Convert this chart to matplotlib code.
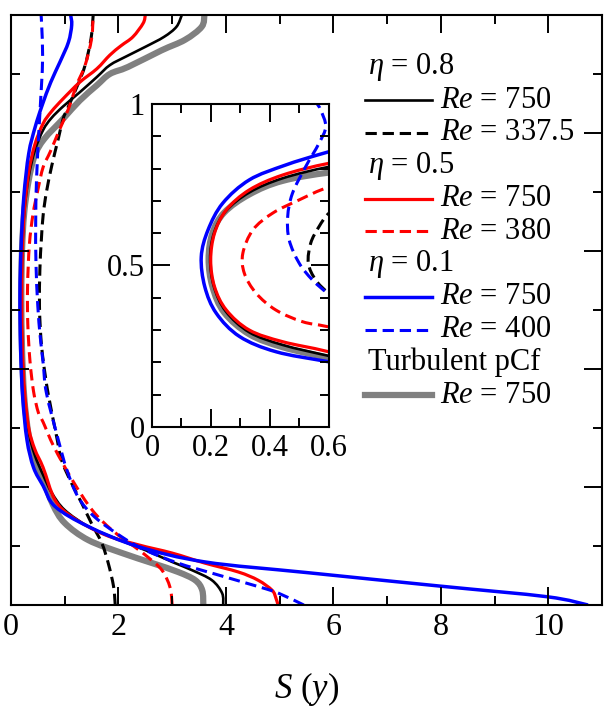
import numpy as np
import matplotlib.pyplot as plt
from matplotlib.path import Path
from matplotlib.patches import PathPatch
from matplotlib.ticker import MultipleLocator, FuncFormatter

plt.rcParams['font.family'] = ['Liberation Serif', 'DejaVu Serif']
plt.rcParams['mathtext.fontset'] = 'custom'
plt.rcParams['mathtext.rm'] = 'Liberation Serif'
plt.rcParams['mathtext.it'] = 'Liberation Serif:italic'

# S(y) profiles (y from wall to wall)
# eta = 0.8
y_08_750 = [0.0, 0.02, 0.042, 0.059, 0.073, 0.093, 0.113, 0.133, 0.161, 0.19, 0.22, 0.254, 0.293, 0.358,
            0.434, 0.52, 0.6, 0.668, 0.726, 0.77, 0.805, 0.825, 0.845, 0.869, 0.895, 0.915, 0.93, 0.946,
            0.963, 0.98, 1.0]
s_08_750 = [3.95, 3.93, 3.74, 3.37, 3.0, 2.5, 1.94, 1.44, 1.0, 0.76, 0.6, 0.443, 0.33, 0.25,
            0.21, 0.197, 0.21, 0.25, 0.33, 0.443, 0.598, 0.75, 0.97, 1.28, 1.6, 1.84, 2.15, 2.5,
            2.85, 3.08, 3.18]
y_08_337 = [0.0, 0.031, 0.071, 0.105, 0.138, 0.172, 0.206, 0.246, 0.29, 0.359, 0.414, 0.455, 0.507,
            0.569, 0.62, 0.662, 0.70, 0.745, 0.79, 0.824, 0.841, 0.881, 0.915, 0.96, 1.0]
s_08_337 = [1.94, 1.91, 1.81, 1.69, 1.50, 1.32, 1.13, 0.94, 0.84, 0.69, 0.6, 0.555, 0.53,
            0.538, 0.566, 0.6, 0.66, 0.76, 0.88, 0.97, 1.05, 1.24, 1.38, 1.49, 1.53]
# eta = 0.5
y_05_750 = [0.0, 0.012, 0.025, 0.042, 0.056, 0.071, 0.088, 0.102, 0.119, 0.149, 0.178, 0.233, 0.264,
            0.30, 0.362, 0.434, 0.517, 0.60, 0.672, 0.734, 0.78, 0.816, 0.836, 0.858, 0.886, 0.909,
            0.932, 0.948, 0.963, 0.986, 1.0]
s_05_750 = [4.97, 4.93, 4.86, 4.6, 4.23, 3.61, 3.0, 2.37, 1.75, 1.14, 0.82, 0.598, 0.443,
            0.33, 0.252, 0.212, 0.199, 0.212, 0.252, 0.33, 0.443, 0.598, 0.75, 0.97, 1.28, 1.6,
            1.84, 2.05, 2.27, 2.46, 2.5]
y_05_380 = [0.0, 0.03, 0.059, 0.081, 0.098, 0.127, 0.161, 0.212, 0.268, 0.31, 0.326, 0.362, 0.414,
            0.476, 0.538, 0.61, 0.662, 0.703, 0.742, 0.768, 0.807, 0.841, 0.881, 0.915, 0.96, 1.0]
s_05_380 = [3.0, 2.96, 2.81, 2.55, 2.31, 1.88, 1.51, 1.14, 0.80, 0.598, 0.51, 0.42, 0.353,
            0.313, 0.308, 0.342, 0.409, 0.499, 0.598, 0.73, 0.91, 1.07, 1.22, 1.38, 1.50, 1.53]
# eta = 0.1
y_01_750 = [0.0, 0.014, 0.032, 0.055, 0.073, 0.099, 0.133, 0.167, 0.202, 0.233, 0.28, 0.352, 0.434,
            0.527, 0.61, 0.693, 0.765, 0.81, 0.847, 0.886, 0.92, 0.954, 0.983, 1.0]
s_01_750 = [10.74, 9.98, 7.99, 5.5, 3.61, 2.37, 1.44, 0.82, 0.598, 0.42, 0.297, 0.218, 0.179,
            0.167, 0.19, 0.24, 0.33, 0.45, 0.58, 0.74, 0.91, 1.07, 1.13, 1.11]
y_01_400 = [0.0, 0.02, 0.031, 0.054, 0.071, 0.093, 0.115, 0.149, 0.183, 0.229, 0.28, 0.359, 0.409,
            0.455, 0.507, 0.579, 0.651, 0.723, 0.806, 0.878, 0.93, 0.981, 1.0]
s_01_400 = [5.45, 4.98, 4.61, 3.74, 3.11, 2.5, 2.07, 1.56, 1.25, 1.04, 0.88, 0.66, 0.6,
            0.544, 0.499, 0.465, 0.46, 0.476, 0.521, 0.566, 0.589, 0.572, 0.56]
# turbulent plane Couette flow
y_pcf_750 = [0.0, 0.025, 0.042, 0.056, 0.071, 0.088, 0.11, 0.139, 0.17, 0.213, 0.247, 0.287, 0.354,
             0.434, 0.52, 0.6, 0.664, 0.72, 0.762, 0.79, 0.824, 0.855, 0.881, 0.9, 0.912, 0.94,
             0.958, 0.98, 1.0]
s_pcf_750 = [3.58, 3.56, 3.43, 3.11, 2.63, 2.07, 1.44, 1.0, 0.78, 0.6, 0.443, 0.33, 0.245,
             0.205, 0.192, 0.205, 0.245, 0.33, 0.443, 0.62, 0.97, 1.28, 1.6, 1.84, 2.18, 2.8,
             3.24, 3.55, 3.6]

dash = (0, (3.7, 1.9))
# (y, S, colour, linestyle, width, legend label)
curves = [
    (y_pcf_750, s_pcf_750, '#808080', '-', 4.5, r'$Re$ = 750'),
    (y_08_750, s_08_750, 'black', '-', 1.9, r'$Re$ = 750'),
    (y_08_337, s_08_337, 'black', dash, 2.2, r'$Re$ = 337.5'),
    (y_05_750, s_05_750, 'red', '-', 2.3, r'$Re$ = 750'),
    (y_05_380, s_05_380, 'red', dash, 2.2, r'$Re$ = 380'),
    (y_01_750, s_01_750, 'blue', '-', 2.5, r'$Re$ = 750'),
    (y_01_400, s_01_400, 'blue', dash, 2.2, r'$Re$ = 400'),
]


def smooth_path(xs, ys):
    # cubic Bezier segments through the read points (Catmull-Rom tangents)
    p = np.column_stack([xs, ys]).astype(float)
    n = len(p)
    verts = [p[0]]
    codes = [Path.MOVETO]
    for i in range(n - 1):
        p0 = p[i - 1] if i > 0 else p[i]
        p3 = p[i + 2] if i + 2 < n else p[i + 1]
        verts += [p[i] + (p[i + 1] - p0) / 6, p[i + 1] - (p3 - p[i]) / 6, p[i + 1]]
        codes += [Path.CURVE4] * 3
    return Path(verts, codes)


fig = plt.figure(figsize=(6.07, 7.17), dpi=100)
ax = fig.add_axes([0.0181, 0.1562, 0.9736, 0.8229])
ins = fig.add_axes([0.2504, 0.4045, 0.2916, 0.4505])

for y, s, color, ls, lw, lab in curves:
    for a in (ax, ins):
        a.add_patch(PathPatch(smooth_path(s, y), fill=False, edgecolor=color,
                              linestyle=ls, lw=lw))


def style(a, xmaj, xmin, ymaj, ymin, fs):
    a.xaxis.set_major_locator(MultipleLocator(xmaj))
    a.xaxis.set_minor_locator(MultipleLocator(xmin))
    a.yaxis.set_major_locator(MultipleLocator(ymaj))
    a.yaxis.set_minor_locator(MultipleLocator(ymin))
    a.tick_params(which='both', direction='in', top=True, right=True, width=1.4, labelsize=fs, pad=6)
    a.tick_params(which='major', length=13)
    a.tick_params(which='minor', length=6.5)
    for sp in a.spines.values():
        sp.set_linewidth(1.5)
    a.xaxis.set_major_formatter(FuncFormatter(lambda v, p: '%g' % round(v, 3)))
    a.yaxis.set_major_formatter(FuncFormatter(lambda v, p: '%g' % round(v, 3)))


style(ax, 2, 1, 0.2, 0.1, 23)
ax.set_xlim(0, 11)
ax.set_ylim(0, 1)
ax.tick_params(labelleft=False)
ax.set_xlabel(r'$S$ ($y$)', fontsize=25, labelpad=20)

style(ins, 0.2, 0.1, 0.5, 0.1, 22)
ins.set_xlim(0, 0.6)
ins.set_ylim(0, 1)
ins.tick_params(pad=5)

# legend with group headers
rows = [r'$\eta$ = 0.8', curves[1], curves[2], r'$\eta$ = 0.5', curves[3], curves[4],
        r'$\eta$ = 0.1', curves[5], curves[6], 'Turbulent pCf', curves[0]]
top, step = 0.9113, 0.0556
for i, row in enumerate(rows):
    yy = top - i * step
    if isinstance(row, str):
        ax.text(0.604, yy, row, transform=ax.transAxes, fontsize=22, va='center', ha='left')
    else:
        ax.plot([0.599, 0.712], [yy, yy], transform=ax.transAxes, color=row[2],
                linestyle=row[3], lw=row[4], clip_on=False)
        ax.text(0.726, yy, row[5], transform=ax.transAxes, fontsize=22, va='center', ha='left')

fig.savefig('out.png', dpi=100)
